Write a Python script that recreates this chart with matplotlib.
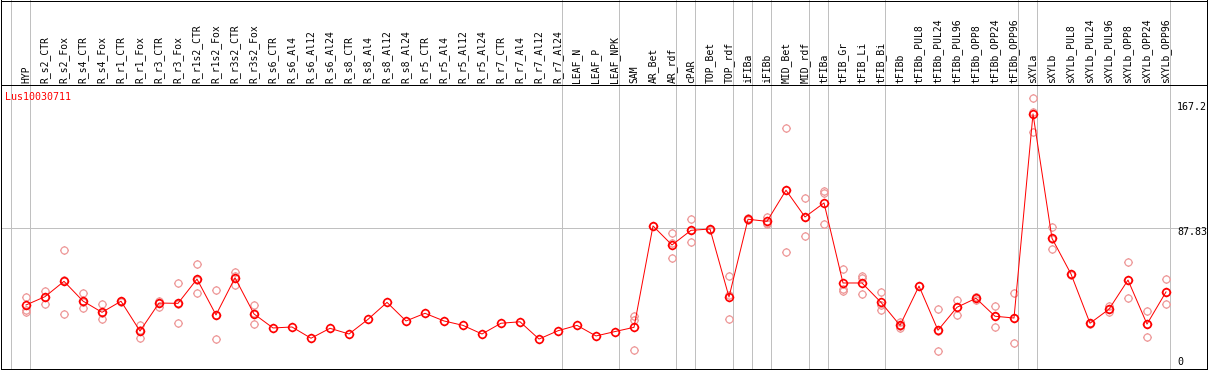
import matplotlib
matplotlib.use('Agg')
import matplotlib.pyplot as plt
from matplotlib.path import Path
from matplotlib.lines import Line2D
import matplotlib.transforms as mtrans
import numpy as np

categories = ["HYP", "R_s2_CTR", "R_s2_Fox", "R_s4_CTR", "R_s4_Fox", "R_r1_CTR", "R_r1_Fox",
              "R_r3_CTR", "R_r3_Fox", "R_r1s2_CTR", "R_r1s2_Fox", "R_r3s2_CTR", "R_r3s2_Fox",
              "R_s6_CTR", "R_s6_Al4", "R_s6_Al12", "R_s6_Al24", "R_s8_CTR", "R_s8_Al4",
              "R_s8_Al12", "R_s8_Al24", "R_r5_CTR", "R_r5_Al4", "R_r5_Al12", "R_r5_Al24",
              "R_r7_CTR", "R_r7_Al4", "R_r7_Al12", "R_r7_Al24", "LEAF_N", "LEAF_P", "LEAF_NPK",
              "SAM", "AR_Bet", "AR_rdf", "cPAR", "TOP_Bet", "TOP_rdf", "iFIBa", "iFIBb",
              "MID_Bet", "MID_rdf", "tFIBa", "tFIB_Gr", "tFIB_Li", "tFIB_Bi", "tFIBb",
              "tFIBb_PUL8", "tFIBb_PUL24", "tFIBb_PUL96", "tFIBb_OPP8", "tFIBb_OPP24",
              "tFIBb_OPP96", "sXYLa", "sXYLb", "sXYLb_PUL8", "sXYLb_PUL24", "sXYLb_PUL96",
              "sXYLb_OPP8", "sXYLb_OPP24", "sXYLb_OPP96"]

means = [40.5, 45.6, 55.0, 42.9, 36.0, 42.8, 24.5, 41.7, 41.5, 56.4, 34.4, 57.2, 35.0,
         26.4, 27.0, 20.1, 26.2, 22.7, 31.7, 42.1, 30.7, 35.4, 30.7, 28.0, 22.7,
         29.3, 30.2, 19.6, 24.7, 28.0, 21.5, 24.2,
         26.8, 89.0, 77.3, 86.3, 87.1, 45.4, 93.1, 91.8,
         110.9, 94.5, 103.1, 54.0, 54.0, 42.1, 28.0,
         52.1, 25.0, 39.1, 44.6, 33.6, 32.5,
         157.7, 81.4, 59.5, 29.3, 37.9, 55.8, 28.8, 48.5]

replicates = [[45.1, 37.4, 36.2], [49.1, 41.3, 45.6], [74.0, 35.2, 55.8], [47.7, 38.5, 42.6],
              [40.9, 31.7, 35.4], [43.1, 42.3, 42.8], [28.2, 20.4, 24.9], [43.1, 39.3, 41.7],
              [53.8, 29.3, 41.4], [65.5, 47.7, 56.0], [49.5, 19.4, 34.3], [60.6, 52.8, 58.2],
              [40.3, 29.0, 35.7],
              [], [], [], [], [], [], [], [], [], [], [], [], [], [], [], [], [], [], [],
              [33.7, 31.3, 12.7], [89.0], [84.5, 69.1, 78.3], [93.1, 79.0, 86.8],
              [87.4, 86.8], [58.1, 31.7, 46.4], [93.6, 92.6], [94.7, 90.0, 90.7],
              [148.9, 72.8, 111.0], [106.0, 82.8, 94.7], [110.6, 109.0, 90.2],
              [62.4, 49.3, 50.3], [58.5, 57.2, 47.1], [48.3, 37.4, 40.6], [30.2, 26.2, 27.6],
              [52.1], [37.9, 12.3, 24.8], [43.6, 34.2, 39.5], [43.6, 45.1, 45.1],
              [39.7, 27.2, 33.9], [47.7, 17.0, 32.8],
              [167.3, 158.9, 146.4], [88.3, 74.7, 81.2], [59.8, 59.2], [29.6, 29.0],
              [39.9, 36.0, 37.8], [66.7, 44.6, 56.1], [36.6, 20.7, 29.1], [56.3, 40.9, 48.3]]

group_ends = [-1, 0, 28, 31, 34, 35, 37, 38, 39, 41, 42, 45, 52, 53, 60]
gene_id = "Lus10030711"
y_marks = ["167.2", "87.83", "0"]
y_ref = 87.83

W, H = 1209, 370
fig = plt.figure(figsize=(W / 100, H / 100), dpi=100)
fig.patch.set_facecolor('white')


def fx(px):
    return px / W


def fy(py):
    return 1 - py / H


LW = 0.72
MONO = 'DejaVu Sans Mono'
GRID = '#c0c0c0'

ax = fig.add_axes([fx(1), fy(369), fx(1207) - fx(1), fy(85) - fy(369)])
x0, step = 26, 19
ax.set_xlim((1 - x0) / step, (1207 - x0) / step)
base, scale = 371, 1.63
ax.set_ylim((base - 369) / scale, (base - 85) / scale)
ax.set_xticks([])
ax.set_yticks([])
for s in ax.spines.values():
    s.set_color('black')
    s.set_linewidth(LW)

# custom marker: circle with four small stubs
circ = Path.unit_circle()
stub_len = 1.25
stubs = Path([(1, 0), (stub_len, 0), (-1, 0), (-stub_len, 0), (0, 1), (0, stub_len), (0, -1), (0, -stub_len)],
             [Path.MOVETO, Path.LINETO] * 4)
gear = Path.make_compound_path(circ, stubs)

ax.axhline(y_ref, color=GRID, lw=LW, zorder=1)

blend = mtrans.blended_transform_factory(ax.transData, fig.transFigure)
for g in group_ends:
    xg = g + 0.22
    ax.plot([xg, xg], [fy(369), fy(0)], color=GRID, lw=LW, transform=blend, clip_on=False, zorder=1)

x = np.arange(len(categories))
rx, ry = [], []
for i, reps in enumerate(replicates):
    for v in reps:
        rx.append(i)
        ry.append(v)
ax.plot(rx, ry, linestyle='none', marker=gear, markersize=6.4, markerfacecolor='none',
        markeredgecolor='#ee9a9a', markeredgewidth=0.9, zorder=2)
ax.plot(x, means, color='red', lw=LW, zorder=3)
ax.plot(x, means, linestyle='none', marker=gear, markersize=6.8, markerfacecolor='none',
        markeredgecolor='red', markeredgewidth=1.2, zorder=4)

for i, c in enumerate(categories):
    ax.text(i, fy(83), c, transform=blend, rotation=90, ha='center', va='bottom',
            fontsize=7, family=MONO, color='black', clip_on=False)

fig.text(fx(5), fy(97), gene_id, color='red', ha='left', va='center', fontsize=7.2, family=MONO)

for lab, ypx in zip(y_marks, [107, 232, 362]):
    fig.text(fx(1177), fy(ypx), lab, color='black', ha='left', va='center', fontsize=7.2, family=MONO)

# header border
for (xa, ya, xb, yb) in [(1, 0.5, 1207, 0.5), (1, 0, 1, 85), (1207, 0, 1207, 85)]:
    fig.add_artist(Line2D([fx(xa), fx(xb)], [fy(ya), fy(yb)], color='black', lw=LW,
                          transform=fig.transFigure))

fig.savefig('out.png', dpi=100, facecolor='white')
